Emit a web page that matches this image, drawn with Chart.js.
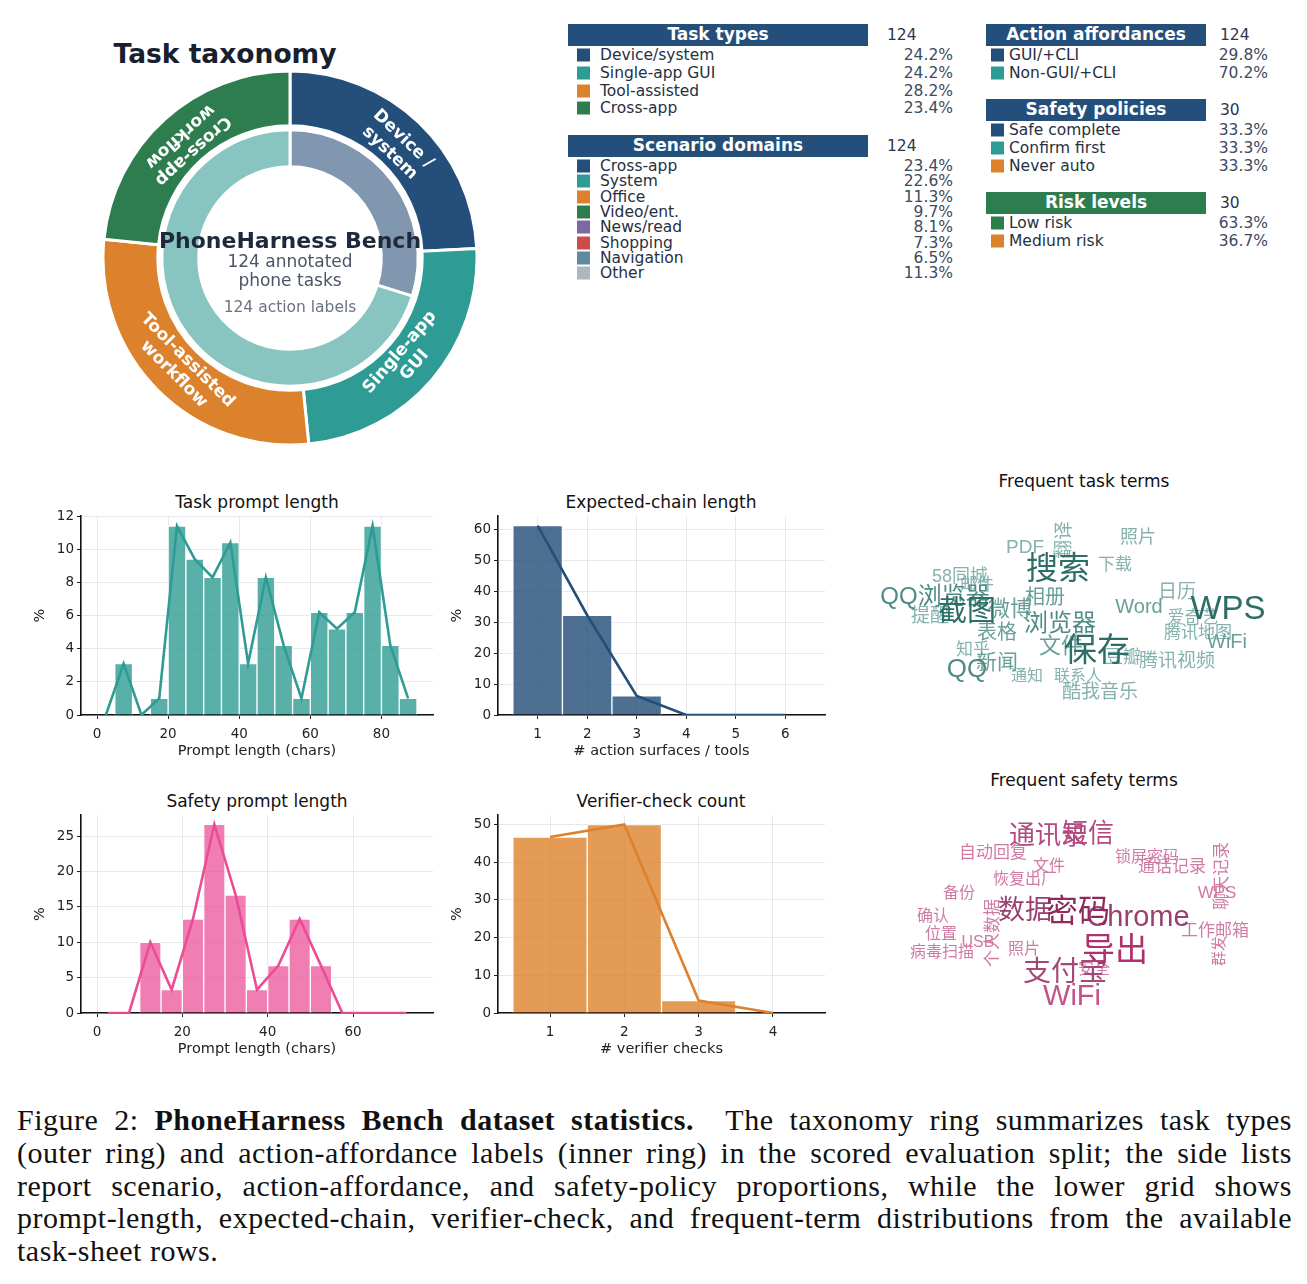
<!DOCTYPE html>
<html><head><meta charset="utf-8">
<script src="https://cdn.jsdelivr.net/npm/chart.js@4.4.1/dist/chart.umd.min.js"></script>
<style>
html,body{margin:0;padding:0;background:#fff;}
body{width:1307px;height:1284px;position:relative;overflow:hidden;font-family:"DejaVu Sans",sans-serif;}
canvas{position:absolute;}
.abs{position:absolute;white-space:nowrap;}
.c{transform:translate(-50%,-50%);}
.hdr{position:absolute;height:21.5px;color:#fff;font-weight:bold;font-size:17px;line-height:21.5px;text-align:center;}
.cnt{position:absolute;font-size:15.5px;color:#2d3748;transform:translateY(-50%);}
.mk{position:absolute;width:13px;height:13px;transform:translateY(-50%);}
.lb{position:absolute;font-size:15.5px;color:#27303f;transform:translateY(-50%);white-space:nowrap;}
.pc{position:absolute;font-size:15.5px;color:#3e4a61;transform:translate(-100%,-50%);white-space:nowrap;}
.ttl{position:absolute;font-size:17px;color:#111;transform:translate(-50%,-50%);white-space:nowrap;}
.cap{position:absolute;left:17px;top:1104px;width:1275px;font-family:"Liberation Serif",serif;font-size:30px;letter-spacing:0.5px;color:#111;line-height:32.8px;}
.cap .l{text-align:justify;text-align-last:justify;height:32.8px;overflow:visible;}
.cap .last{text-align-last:left;}
</style></head><body>
<div class="abs c" style="left:225px;top:53px;font-size:26.5px;font-weight:bold;color:#17202e;">Task taxonomy</div>
<div class="ttl" style="left:257px;top:502px;">Task prompt length</div>
<div class="ttl" style="left:661px;top:502px;">Expected-chain length</div>
<div class="ttl" style="left:257px;top:801px;">Safety prompt length</div>
<div class="ttl" style="left:661px;top:801px;">Verifier-check count</div>
<div class="ttl" style="left:1084px;top:481px;">Frequent task terms</div>
<div class="ttl" style="left:1084px;top:780px;">Frequent safety terms</div>
<div class="cap">
<div class="l">Figure 2: <b>PhoneHarness Bench dataset statistics.</b>&nbsp; The taxonomy ring summarizes task types</div>
<div class="l">(outer ring) and action-affordance labels (inner ring) in the scored evaluation split; the side lists</div>
<div class="l">report scenario, action-affordance, and safety-policy proportions, while the lower grid shows</div>
<div class="l">prompt-length, expected-chain, verifier-check, and frequent-term distributions from the available</div>
<div class="l last">task-sheet rows.</div>
</div>
<script>
// ---------------- DATA ----------------
const taskCount = 124;
const safetyCount = 30;
const taskTypeLabels = ['Device/system','Single-app GUI','Tool-assisted','Cross-app'];
const taskTypeShares = [24.2, 24.2, 28.2, 23.4];
const taskTypeRingLabels = [['Device /','system'],['Single-app','GUI'],['Tool-assisted','workflow'],['Cross-app','workflow']];
const affordanceLabels = ['GUI/+CLI','Non-GUI/+CLI'];
const affordanceShares = [29.8, 70.2];
const scenarioLabels = ['Cross-app','System','Office','Video/ent.','News/read','Shopping','Navigation','Other'];
const scenarioShares = [23.4, 22.6, 11.3, 9.7, 8.1, 7.3, 6.5, 11.3];
const safetyPolicyLabels = ['Safe complete','Confirm first','Never auto'];
const safetyPolicyShares = [33.3, 33.3, 33.3];
const riskLabels = ['Low risk','Medium risk'];
const riskShares = [63.3, 36.7];

// Task prompt length histogram (bin centers, % of tasks)
const taskLenBins = [7.5,12.5,17.5,22.5,27.5,32.5,37.5,42.5,47.5,52.5,57.5,62.5,67.5,72.5,77.5,82.5,87.5];
const taskLenPct  = [3.1,0,1.0,11.4,9.4,8.3,10.4,3.1,8.3,4.2,1.0,6.2,5.2,6.2,11.4,4.2,1.0];
const taskLenLineX = [2.5,7.5,12.5,17.5,22.5,27.5,32.5,37.5,42.5,47.5,52.5,57.5,62.5,67.5,72.5,77.5,82.5,87.5];
const taskLenLineY = [0,3.1,0,1.0,11.4,9.4,8.3,10.4,3.1,8.3,4.2,1.0,6.2,5.2,6.2,11.4,4.2,1.0];
const taskLenTicks = [0,20,40,60,80];
const taskLenYTicks = [0,2,4,6,8,10,12];

// Expected chain length
const chainBins = [1,2,3,4,5,6];
const chainPct  = [61.3,32.3,6.2,0,0,0];
const chainLineY = [61.3,32.3,6.2,0,0,0];
const chainTicks = [1,2,3,4,5,6];
const chainYTicks = [0,10,20,30,40,50,60];

// Safety prompt length
const safeLenBins = [2.5,7.5,12.5,17.5,22.5,27.5,32.5,37.5,42.5,47.5,52.5,57.5,62.5,67.5,72.5];
const safeLenPct  = [0,0,10.0,3.3,13.3,26.7,16.7,3.3,6.7,13.3,6.7,0,0,0,0];
const safeLenTicks = [0,20,40,60];
const safeLenYTicks = [0,5,10,15,20,25];

// Verifier checks
const verBins = [1,2,3,4];
const verPct  = [46.7,50.0,3.3,0];
const verTicks = [1,2,3,4];
const verYTicks = [0,10,20,30,40,50];

// Word clouds: term, weight (frequency), layout x/y
const taskTerms = ['WPS','保存','搜索','截图','浏览器','QQ浏览器','微博','文件','QQ','新闻','PDF','翻译','照片','下载','58同城','邮件','相册','日历','Word','爱奇艺','腾讯地图','WiFi','提醒','表格','知乎','豆瓣','腾讯视频','通知','联系人','酷我音乐'];
const taskTermWeights = [33,33,32,29,24,24,22,22,26,21,19,19,18,17,18,17,20,19,20,17,17,20,19,20,17,18,19,16,16,19];
const taskTermX = [358,227,188,97,190,65,140,191,97,127,155,195,268,245,90,107,175,307,269,323,328,357,60,127,103,253,307,157,208,230];
const taskTermY = [110,152,70,113,124,97,110,147,170,163,48,40,38,65,77,85,98,93,107,118,133,142,117,133,150,158,162,177,177,193];
const taskTermVertical = ['翻译'];

const safetyTerms = ['密码','导出','数据','Chrome','支付宝','WiFi','通讯录','短信','自动回复','文件','恢复出厂','锁屏密码','通话记录','备份','WPS','聊天记录','确认','位置','USB','病毒扫描','照片','安全','工作邮箱','群发','个人数据'];
const safetyTermWeights = [32,33,27,29,28,29,26,26,17,16,16,16,17,16,17,17,16,16,16,16,16,16,17,15,17];
const safetyTermX = [208,245,155,268,195,202,178,218,123,179,155,277,302,89,347,352,63,71,108,72,154,224,345,350,123];
const safetyTermY = [113,152,112,118,173,197,37,35,53,67,80,58,67,94,93,76,117,135,143,153,150,170,131,151,133];
const safetyTermVertical = ['聊天记录','群发','个人数据'];

// ---------------- STYLE ----------------
const NAVY='#244f7a', TEAL='#2e9c94', ORANGE='#dc822c', GREEN='#2e7d4f';
const taskTypeColors=[NAVY,TEAL,ORANGE,GREEN];
const affordanceRingColors=['#8097af','#88c5c0'];
const affordanceColors=[NAVY,TEAL];
const scenarioColors=[NAVY,TEAL,ORANGE,GREEN,'#7d68a4','#cc4b4b','#5d8aa0','#aeb6c0'];
const policyColors=[NAVY,TEAL,ORANGE];
const riskColors=[GREEN,ORANGE];
const safetyTermTone={'WiFi':'#c4508c','导出':'#b0306e','支付宝':'#a44877'};

Chart.defaults.font.family='"DejaVu Sans", sans-serif';
Chart.defaults.color='#222';

function addCanvas(x,y,w,h){
  const c=document.createElement('canvas');
  c.width=w;c.height=h;c.style.left=x+'px';c.style.top=y+'px';c.style.width=w+'px';c.style.height=h+'px';
  document.body.appendChild(c);return c;
}
function el(cls,x,y,text,style){
  const d=document.createElement('div');d.className=cls;d.style.left=x+'px';d.style.top=y+'px';
  if(text!==null)d.textContent=text; if(style)Object.assign(d.style,style);
  document.body.appendChild(d);return d;
}

// ---------------- LEGEND LISTS ----------------
function legendBlock(g, top, title, count, labels, shares, colors, rowGap, hdrColor){
  el('hdr',g.box0,top,title,{width:(g.box1-g.box0)+'px',background:hdrColor});
  el('cnt',g.cnt,top+11,String(count));
  labels.forEach((lab,i)=>{
    const y=top+11+20+i*rowGap;
    el('mk',g.mk,y,null,{background:colors[i]});
    el('lb',g.lab,y,lab);
    el('pc',g.pct,y,shares[i].toFixed(1)+'%');
  });
}
const leftG={box0:568,box1:868,cnt:887,mk:577,lab:600,pct:953};
const rightG={box0:986,box1:1206,cnt:1220,mk:991,lab:1009,pct:1268};
legendBlock(leftG,24,'Task types',taskCount,taskTypeLabels,taskTypeShares,taskTypeColors,17.8,NAVY);
legendBlock(leftG,135,'Scenario domains',taskCount,scenarioLabels,scenarioShares,scenarioColors,15.3,NAVY);
legendBlock(rightG,24,'Action affordances',taskCount,affordanceLabels,affordanceShares,affordanceColors,18,NAVY);
legendBlock(rightG,99,'Safety policies',safetyCount,safetyPolicyLabels,safetyPolicyShares,policyColors,18,NAVY);
legendBlock(rightG,192,'Risk levels',safetyCount,riskLabels,riskShares,riskColors,18,GREEN);

// ---------------- DONUT ----------------
const ringLabelPlugin={
  id:'ringLabels',
  afterDatasetsDraw(chart){
    const ctx=chart.ctx;
    const meta=chart.getDatasetMeta(0);
    meta.data.forEach((arc,i)=>{
      const p=arc.getProps(['x','y','startAngle','endAngle','innerRadius','outerRadius'],true);
      const mid=(p.startAngle+p.endAngle)/2;
      const r=(p.innerRadius+p.outerRadius)/2-5;
      const px=p.x+Math.cos(mid)*r, py=p.y+Math.sin(mid)*r;
      const fromTop=mid+Math.PI/2;
      const rot=fromTop>Math.PI/2?fromTop-Math.PI:fromTop;
      ctx.save();ctx.translate(px,py);ctx.rotate(rot);
      ctx.fillStyle='#fff';ctx.font='bold 17px "DejaVu Sans"';ctx.textAlign='center';ctx.textBaseline='middle';
      const lines=taskTypeRingLabels[i];const lh=19.5;
      lines.forEach((t,k)=>ctx.fillText(t,0,(k-(lines.length-1)/2)*lh));
      ctx.restore();
    });
    const c=meta.data[0];
    ctx.save();ctx.textAlign='center';ctx.textBaseline='middle';
    ctx.fillStyle='#1e2a3b';ctx.font='bold 22px "DejaVu Sans"';ctx.fillText('PhoneHarness Bench',c.x,c.y-16);
    ctx.fillStyle='#4a5568';ctx.font='17px "DejaVu Sans"';
    ctx.fillText(taskCount+' annotated',c.x,c.y+5);ctx.fillText('phone tasks',c.x,c.y+24);
    ctx.fillStyle='#6b7280';ctx.font='15.5px "DejaVu Sans"';ctx.fillText(taskCount+' action labels',c.x,c.y+50);
    ctx.restore();
  }
};
new Chart(addCanvas(100,68,380,380),{
  type:'doughnut',
  data:{labels:taskTypeLabels,datasets:[
    {data:taskTypeShares,backgroundColor:taskTypeColors,borderColor:'#fff',borderWidth:3,weight:55},
    {data:[1],backgroundColor:'rgba(0,0,0,0)',borderWidth:0,weight:4},
    {data:affordanceShares,backgroundColor:affordanceRingColors,borderColor:'#fff',borderWidth:3,weight:37}
  ]},
  options:{responsive:false,animation:false,devicePixelRatio:1,radius:187,cutout:92,
    layout:{padding:0},plugins:{legend:{display:false},tooltip:{enabled:false}}},
  plugins:[ringLabelPlugin]
});

// ---------------- HISTOGRAMS ----------------
function makeHist(cfg){
  const a=cfg.area;
  const W=(a.R-a.L)+72, H=(a.B-a.T)+62;
  const cv=addCanvas(a.L-62,a.T-10,W,H);
  new Chart(cv,{
    type:'bar',
    data:{datasets:[
      {type:'line',data:cfg.lineX.map((x,i)=>({x,y:cfg.lineY[i]})),borderColor:cfg.line,borderWidth:2.6,pointRadius:0,fill:false,tension:0,order:0},
      {type:'bar',data:cfg.binX.map((x,i)=>({x,y:cfg.binY[i]})),backgroundColor:cfg.bar,borderColor:'#fff',borderWidth:1,
        barPercentage:1,categoryPercentage:1,borderSkipped:'start',order:1}
    ]},
    options:{responsive:false,animation:false,devicePixelRatio:1,
      layout:{padding:{left:0,top:10,right:10,bottom:0}},
      plugins:{legend:{display:false},tooltip:{enabled:false}},
      scales:{
        x:{type:'linear',min:cfg.xMin,max:cfg.xMax,offset:false,
          afterBuildTicks:s=>{s.ticks=cfg.xTicks.map(v=>({value:v}));},
          afterFit:s=>{s.height=52;},
          grid:{color:'#e6e8ed',lineWidth:1,tickColor:'#222',tickLength:4,offset:false},
          border:{color:'#111',width:1.6},
          ticks:{font:{size:13.5},color:'#222',padding:7,maxRotation:0,autoSkip:false},
          title:{display:true,text:cfg.xTitle,font:{size:14.5},color:'#222',padding:{top:0,bottom:7}}},
        y:{type:'linear',min:0,max:cfg.yMax,
          afterBuildTicks:s=>{s.ticks=cfg.yTicks.map(v=>({value:v}));},
          afterFit:s=>{s.width=62;},
          grid:{color:'#e6e8ed',lineWidth:1,tickColor:'#222',tickLength:4},
          border:{color:'#111',width:1.6},
          ticks:{font:{size:13.5},color:'#222',padding:3,autoSkip:false},
          title:{display:true,text:'%',font:{size:14.5},color:'#222',padding:{top:13,bottom:0}}}
      }
    }
  });
}
makeHist({area:{L:81,R:433,T:515,B:715},binX:taskLenBins,binY:taskLenPct,lineX:taskLenLineX,lineY:taskLenLineY,
  xMin:-4.5,xMax:94.5,yMax:12,xTicks:taskLenTicks,yTicks:taskLenYTicks,bar:'rgba(46,156,148,0.8)',line:TEAL,xTitle:'Prompt length (chars)'});
makeHist({area:{L:498,R:825,T:515,B:715},binX:chainBins,binY:chainPct,lineX:chainBins,lineY:chainLineY,
  xMin:0.2,xMax:6.8,yMax:64.4,xTicks:chainTicks,yTicks:chainYTicks,bar:'rgba(36,79,122,0.82)',line:NAVY,xTitle:'# action surfaces / tools'});
makeHist({area:{L:81,R:433,T:814,B:1013},binX:safeLenBins,binY:safeLenPct,lineX:safeLenBins,lineY:safeLenPct,
  xMin:-3.75,xMax:78.75,yMax:28.0,xTicks:safeLenTicks,yTicks:safeLenYTicks,bar:'rgba(236,76,148,0.72)',line:'#ec4c94',xTitle:'Prompt length (chars)'});
makeHist({area:{L:498,R:825,T:814,B:1013},binX:verBins,binY:verPct,lineX:verBins,lineY:verPct,
  xMin:0.3,xMax:4.7,yMax:52.5,xTicks:verTicks,yTicks:verYTicks,bar:'rgba(220,130,44,0.8)',line:ORANGE,xTitle:'# verifier checks'});

// ---------------- WORD CLOUDS ----------------
const cloudPlugin={
  id:'cloudText',
  afterDatasetsDraw(chart,args,opts){
    const ctx=chart.ctx;const meta=chart.getDatasetMeta(0);
    const order=opts.weights.map((w,i)=>i).sort((a,b)=>opts.weights[a]-opts.weights[b]);
    order.forEach(i=>{
      const pt=meta.data[i];const w=opts.weights[i];
      ctx.save();ctx.translate(pt.x,pt.y);
      if(opts.vertical.includes(opts.words[i]))ctx.rotate(-Math.PI/2);
      ctx.font=w+'px "Liberation Sans","Noto Sans CJK SC",sans-serif';
      ctx.fillStyle=opts.color(w,opts.words[i]);ctx.textAlign='center';ctx.textBaseline='middle';
      ctx.fillText(opts.words[i],0,0);ctx.restore();
    });
  }
};
function makeCloud(x,y,words,weights,xs,ys,vertical,color){
  new Chart(addCanvas(x,y,430,230),{
    type:'scatter',
    data:{datasets:[{data:xs.map((v,i)=>({x:v,y:ys[i]})),pointRadius:0}]},
    options:{responsive:false,animation:false,devicePixelRatio:1,layout:{padding:0},
      scales:{x:{display:false,min:0,max:430},y:{display:false,min:0,max:230,reverse:true}},
      plugins:{legend:{display:false},tooltip:{enabled:false},cloudText:{words,weights,vertical,color}}},
    plugins:[cloudPlugin]
  });
}
makeCloud(870,500,taskTerms,taskTermWeights,taskTermX,taskTermY,taskTermVertical,
  w=>w>=28?'#2e6e68':w>=23?'#4e8b85':w>=20?'#6a9f99':'#85b2ad');
makeCloud(870,800,safetyTerms,safetyTermWeights,safetyTermX,safetyTermY,safetyTermVertical,
  (w,t)=>safetyTermTone[t]||(w>=30?'#8e2b5b':w>=27?'#9a4070':w>=24?'#b34a81':'#cf7ba4'));
</script>
</body></html>
